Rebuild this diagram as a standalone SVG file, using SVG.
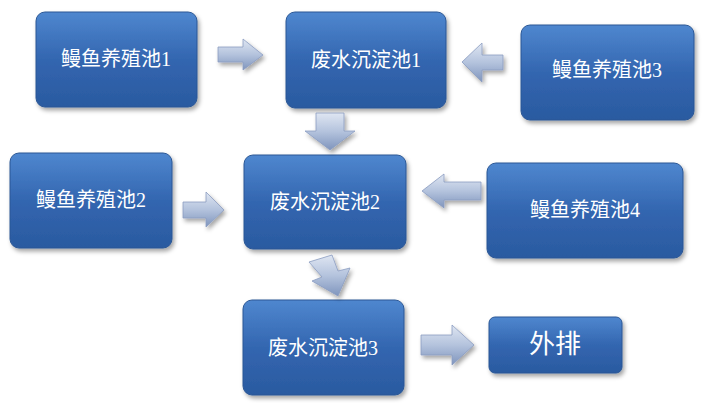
<svg xmlns="http://www.w3.org/2000/svg" width="702" height="403" viewBox="0 0 702 403">
<defs>
<linearGradient id="bg" x1="0" y1="0" x2="0" y2="1"><stop offset="0" stop-color="#4f87cf"/><stop offset="0.5" stop-color="#3366b0"/><stop offset="1" stop-color="#2a5aa0"/></linearGradient>
<linearGradient id="ag" x1="0" y1="0" x2="0" y2="1"><stop offset="0" stop-color="#dfe6f2"/><stop offset="0.5" stop-color="#b4c3dd"/><stop offset="1" stop-color="#7f95bd"/></linearGradient>
<filter id="sh" x="-10%" y="-10%" width="130%" height="130%"><feDropShadow dx="2" dy="3" stdDeviation="2" flood-color="#000" flood-opacity="0.35"/></filter>
</defs>
<style>
.b{fill:url(#bg);stroke:#2b5795;stroke-width:1;filter:url(#sh)}
.t{font-family:"Liberation Serif","Noto Sans CJK SC",serif;font-size:20px;fill:#fff;text-anchor:middle;dominant-baseline:central}
.a{fill:url(#ag);stroke:#8a9cc0;stroke-width:0.8;filter:url(#sh)}
</style>
<rect width="702" height="403" fill="#fff"/>
<g id="b1"><rect class="b" x="36" y="12" width="161" height="95" rx="9"/><text class="t" x="116" y="59">鳗鱼养殖池1</text></g>
<g id="c1"><rect class="b" x="286" y="12" width="160" height="96" rx="9"/><text class="t" x="366" y="60">废水沉淀池1</text></g>
<g id="b3"><rect class="b" x="521" y="25" width="173" height="95" rx="9"/><text class="t" x="607" y="70">鳗鱼养殖池3</text></g>
<g id="b2"><rect class="b" x="10" y="153" width="162" height="95" rx="9"/><text class="t" x="91" y="200">鳗鱼养殖池2</text></g>
<g id="c2"><rect class="b" x="244" y="155" width="162" height="94" rx="9"/><text class="t" x="325" y="202">废水沉淀池2</text></g>
<g id="b4"><rect class="b" x="487" y="163" width="196" height="95" rx="9"/><text class="t" x="585" y="210">鳗鱼养殖池4</text></g>
<g id="c3"><rect class="b" x="243" y="300" width="161" height="95" rx="9"/><text class="t" x="323" y="348">废水沉淀池3</text></g>
<g id="out"><rect class="b" x="489" y="317" width="133" height="56" rx="6"/><text class="t" x="555" y="344" style="font-size:26px">外排</text></g>
<g id="connectors">
<polygon class="a" points="218,47 243,47 243,39 263,55 243,70 243,62 218,62"/>
<polygon class="a" points="503,55 482,55 482,43 462,62 482,82 482,70 503,70"/>
<polygon class="a" points="316,113 344,113 344,131 355,131 330,150 305,131 316,131"/>
<polygon class="a" points="183,202 206,202 206,192 224,210 206,227 206,218 183,218"/>
<polygon class="a" points="481,182 444,182 444,174 422,191 444,208 444,200 481,200"/>
<polygon class="a" points="309,262 332,255 338,271 350,268 338,296 312,281 322,277"/>
<polygon class="a" points="421,335 452,335 452,325 474,345 452,365 452,355 421,355"/>
</g>
</svg>
